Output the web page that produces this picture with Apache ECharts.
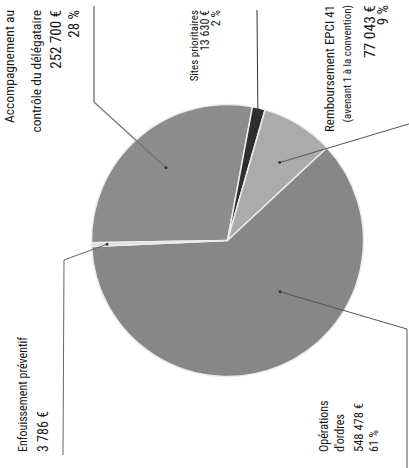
<!DOCTYPE html>
<html>
<head>
<meta charset="utf-8">
<script src="https://cdn.jsdelivr.net/npm/echarts@6/dist/echarts.min.js"></script>
<style>
  html, body { margin: 0; padding: 0; background: #fff; overflow: hidden; width: 409px; height: 468px; }
  /* the chart is laid out upright (468 x 409) and turned a quarter turn to the left */
  #chart { position: absolute; left: 0; top: 0; width: 468px; height: 409px;
           transform-origin: 0 0; transform: translate(0, 468px) rotate(-90deg); }
</style>
</head>
<body>
<div id="chart"></div>
<script>
// Répartition des dépenses
const categories = [
  'Accompagnement au\ncontrôle du délégataire',
  'Sites prioritaires',
  'Remboursement EPCI 41\n(avenant 1 à la convention)',
  "Opérations\nd'ordres",
  'Enfouissement préventif'
];
const values = [252700, 13630, 77043, 548478, 3786];
const showPercent = [true, true, true, true, false];
const sliceColors = ['#8c8c8c', '#2e2e2e', '#ababab', '#878787', '#dcdcdc'];
const leaderColors = ['#777', '#333', '#555', '#555', '#666'];

const FONT = '"Roboto Condensed", "DejaVu Sans Condensed", sans-serif';
const CX = 227.5, CY = 227.5, R = 136, START = 91;

// label blocks: anchor of the text, per-line font sizes / line heights,
// where the leader starts inside the slice (t along the arc, k of the radius) and its path
const labelBoxes = [
  { x: 458, y: -7,    align: 'right', sizes: [13.5, 13.5, 15, 15],   heights: [32, 22, 18, 18], t: 0.5,   k: 0.70,  path: [[366, 94], [462, 94]] },
  { x: 458, y: 188.5, align: 'right', sizes: [11, 12, 12],           heights: [11, 11, 11],     t: 0.5,   k: 0.97,  path: [[458, 257]] },
  { x: 463, y: 321,   align: 'right', sizes: [13, 11, 15.5, 15],     heights: [16, 21, 24, 2],  t: 0.574, k: 0.69,  path: [[345, 412]] },
  { x: 16,  y: 316,   align: 'left',  sizes: [12, 12, 12.5, 12],     heights: [16, 16, 20, 12], t: 0.396, k: 0.54,  path: [[139, 407], [-2, 407]] },
  { x: 16,  y: 12.5,  align: 'left',  sizes: [12, 14],               heights: [20, 20],         t: 0.5,   k: 0.886, path: [[208, 64], [13, 63]] }
];

const total = values.reduce((a, b) => a + b, 0);
const money = v => String(v).replace(/\B(?=(\d{3})+(?!\d))/g, ' ') + ' €';
const pct = v => Math.round(v / total * 100) + ' %';

function labelLines(i) {
  const lines = categories[i].split('\n');
  lines.push(money(values[i]));
  if (showPercent[i]) lines.push(pct(values[i]));
  return lines;
}

// rich styles, one per label line
const rich = {};
labelBoxes.forEach((b, i) => {
  b.sizes.forEach((s, j) => {
    rich['l' + i + '_' + j] = {
      fontFamily: FONT, fontSize: s, lineHeight: b.heights[j], color: '#1a1a1a', align: b.align
    };
  });
});

// slice angles (degrees, clockwise from START) from the values
const sliceStart = [];
let acc = START;
values.forEach(v => { sliceStart.push(acc); acc -= v / total * 360; });

function anchorPoint(i) {
  const b = labelBoxes[i];
  const span = values[i] / total * 360;
  const a = (sliceStart[i] - span * b.t) * Math.PI / 180;
  return [CX + Math.cos(a) * R * b.k, CY - Math.sin(a) * R * b.k];
}

// leader lines drawn over the slices, each ending in a small dot
const leaders = [];
values.forEach((v, i) => {
  const p = anchorPoint(i);
  leaders.push({
    type: 'polyline', z: 10, silent: true,
    shape: { points: [p].concat(labelBoxes[i].path) },
    style: { stroke: leaderColors[i], lineWidth: i === 0 ? 1.4 : 1, fill: null }
  });
  leaders.push({
    type: 'circle', z: 11, silent: true,
    shape: { cx: p[0], cy: p[1], r: 1.5 }, style: { fill: '#333' }
  });
});

const chart = echarts.init(document.getElementById('chart'), null, { renderer: 'svg' });
chart.setOption({
  backgroundColor: '#ffffff',
  animation: false,
  graphic: leaders,
  series: [{
    type: 'pie',
    center: [CX, CY],
    radius: R,
    startAngle: START,
    clockwise: true,
    avoidLabelOverlap: false,
    silent: true,
    data: values.map((v, i) => ({ name: categories[i], value: v, itemStyle: { color: sliceColors[i] } })),
    itemStyle: { borderColor: '#ececec', borderWidth: 1.5 },
    label: {
      show: true,
      position: 'outside',
      fontFamily: FONT,
      formatter: p => labelLines(p.dataIndex).map((s, j) => '{l' + p.dataIndex + '_' + j + '|' + s + '}').join('\n'),
      rich: rich
    },
    labelLine: { show: false },
    labelLayout: params => {
      const b = labelBoxes[params.dataIndex];
      return { x: b.x, y: b.y, align: b.align, verticalAlign: 'top' };
    }
  }]
});
</script>
</body>
</html>
